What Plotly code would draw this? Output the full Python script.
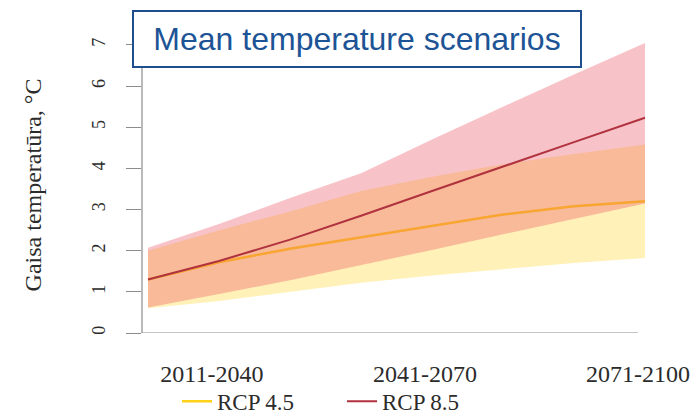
import plotly.graph_objects as go

# Scenario periods and ensemble statistics (air temperature change, °C)
years = [2016, 2026, 2036, 2046, 2056, 2066, 2076, 2086]

rcp45_mean = [1.30, 1.72, 2.05, 2.33, 2.60, 2.88, 3.08, 3.20]
rcp45_low = [0.60, 0.78, 1.00, 1.22, 1.40, 1.55, 1.70, 1.82]
rcp45_high = [2.00, 2.50, 2.95, 3.45, 3.80, 4.10, 4.35, 4.58]

rcp85_mean = [1.30, 1.75, 2.27, 2.85, 3.45, 4.05, 4.64, 5.23]
rcp85_low = [0.62, 0.95, 1.28, 1.65, 2.02, 2.40, 2.78, 3.15]
rcp85_high = [2.07, 2.65, 3.28, 3.88, 4.70, 5.50, 6.28, 7.05]

period_pos = [2025, 2055, 2085]
period_labels = ["2011-2040", "2041-2070", "2071-2100"]
y_ticks = [0, 1, 2, 3, 4, 5, 6, 7]

X_RANGE = [2015.155, 2087.408]
SERIF = "Liberation Serif, Times New Roman, serif"
TEXT = "#2b2b2b"
AXIS = "#8c8c8c"

fig = go.Figure()

# RCP 4.5 range and mean
fig.add_trace(go.Scatter(
    x=years + years[::-1], y=rcp45_high + rcp45_low[::-1],
    fill="toself", mode="lines", line=dict(width=0),
    fillcolor="rgba(255,225,95,0.45)", showlegend=False, hoverinfo="skip"))
fig.add_trace(go.Scatter(
    x=years, y=rcp45_mean, mode="lines", name="RCP 4.5",
    line=dict(color="#ffd21a", width=2.5)))

# RCP 8.5 range and mean (semi-transparent, overlapping RCP 4.5)
fig.add_trace(go.Scatter(
    x=years + years[::-1], y=rcp85_high + rcp85_low[::-1],
    fill="toself", mode="lines", line=dict(width=0),
    fillcolor="rgba(235,80,95,0.34)", showlegend=False, hoverinfo="skip"))
fig.add_trace(go.Scatter(
    x=years, y=rcp85_mean, mode="lines", name="RCP 8.5",
    line=dict(color="#b0323f", width=2)))

# L-shaped axis lines
fig.add_shape(type="line", xref="paper", yref="y", x0=0, x1=0, y0=0, y1=7,
              line=dict(color=AXIS, width=1.2))
fig.add_shape(type="line", xref="paper", yref="y", x0=0,
              x1=(period_pos[-1] - X_RANGE[0]) / (X_RANGE[1] - X_RANGE[0]),
              y0=0, y1=0, line=dict(color=AXIS, width=1.2))

# Title box
fig.add_annotation(
    text="Mean temperature scenarios", xref="paper", yref="paper",
    x=(357 - 142) / 513, y=(333 - 39) / 296, xanchor="center", yanchor="middle",
    showarrow=False, width=446, height=54, borderpad=0,
    bordercolor="#1f4f8c", borderwidth=2, bgcolor="white",
    font=dict(family="Liberation Sans, Arial, sans-serif", size=32, color="#1d5496"))

fig.update_layout(
    width=693, height=415,
    margin=dict(l=142, r=38, t=37, b=82, autoexpand=False),
    paper_bgcolor="white", plot_bgcolor="white",
    showlegend=True,
    legend=dict(orientation="h", x=(177 - 142) / 513, y=-0.158,
                xanchor="left", yanchor="top",
                font=dict(family=SERIF, size=23, color=TEXT),
                entrywidth=120, bgcolor="rgba(0,0,0,0)"),
    xaxis=dict(range=X_RANGE, showgrid=False, zeroline=False, automargin=False,
               showline=False, ticks="", tickvals=period_pos, ticktext=period_labels,
               tickfont=dict(family=SERIF, size=24, color=TEXT),
               ticklabelstandoff=24),
    yaxis=dict(range=[0, 7.194], showgrid=False, zeroline=False, showline=False,
               automargin=False,
               ticks="outside", ticklen=15, tickcolor=AXIS, tickwidth=1,
               tickvals=y_ticks, tickangle=-90,
               tickfont=dict(family=SERIF, size=18, color=TEXT),
               ticklabelstandoff=14,
               title=dict(text="Gaisa temperatūra, °C", standoff=40,
                          font=dict(family=SERIF, size=24, color=TEXT))),
)

fig.write_html("out.html")
